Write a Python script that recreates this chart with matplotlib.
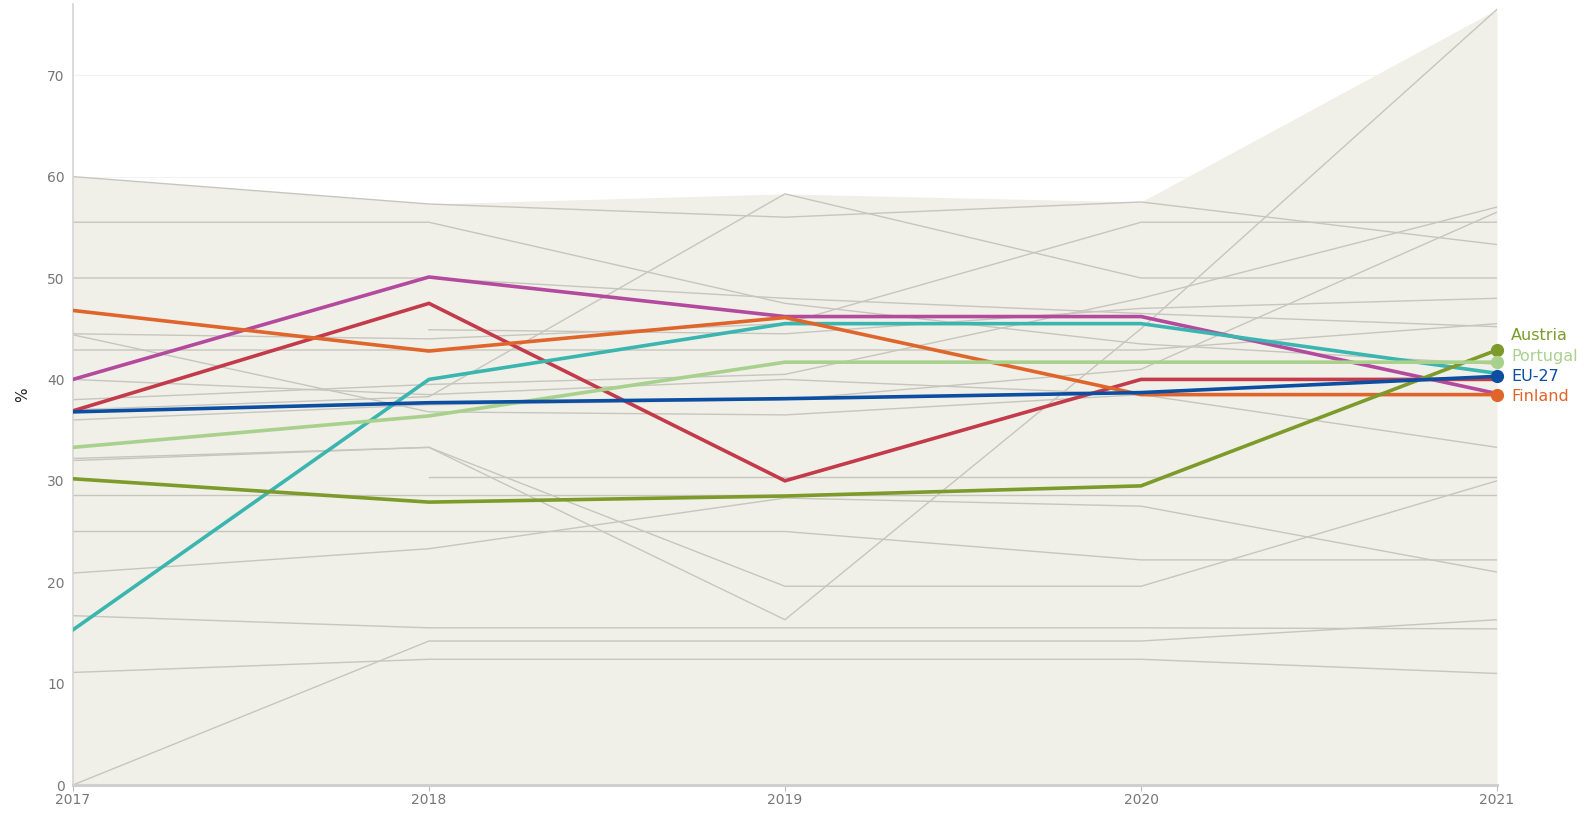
import numpy as np
import matplotlib
matplotlib.use("Agg")
import matplotlib.pyplot as plt

years = [2017, 2018, 2019, 2020, 2021]

# Highlighted series
eu27 = [36.8, 37.7, 38.1, 38.7, 40.3]
austria = [30.2, 27.9, 28.5, 29.5, 42.9]
portugal = [33.3, 36.4, 41.7, 41.7, 41.7]
finland = [46.8, 42.8, 46.1, 38.5, 38.5]
magenta = [40.0, 50.1, 46.2, 46.2, 38.6]
crimson = [36.9, 47.5, 30.0, 40.0, 40.0]
teal = [15.3, 40.0, 45.5, 45.5, 40.6]

# Other countries (grey)
others = [
    [60.0, 57.3, 56.0, 57.5, 53.3],
    [55.5, 55.5, 47.5, 43.5, 41.5],
    [0.0, 14.2, 14.2, 14.2, 16.3],
    [16.7, 15.5, 15.5, 15.5, 15.4],
    [11.1, 12.4, 12.4, 12.4, 11.0],
    [20.9, 23.3, 28.3, 27.5, 21.0],
    [25.0, 25.0, 25.0, 22.2, 22.2],
    [28.6, 28.6, 28.6, 28.6, 28.6],
    [np.nan, 30.4, 30.4, 30.4, 30.4],
    [32.2, 33.3, 19.6, 19.6, 30.0],
    [32.0, 33.3, 16.3, 45.0, 76.5],
    [44.4, 36.8, 36.5, 38.5, 33.3],
    [40.0, 38.5, 40.0, 38.5, 38.5],
    [42.9, 42.9, 42.9, 42.9, 45.5],
    [np.nan, 44.9, 44.5, 47.0, 48.0],
    [50.0, 50.0, 48.0, 46.5, 45.2],
    [37.0, 38.3, 58.3, 50.0, 50.0],
    [44.5, 44.0, 45.5, 55.5, 55.5],
    [38.0, 39.5, 40.5, 48.0, 57.0],
    [36.0, 37.5, 38.0, 41.0, 56.5],
]

highlight = [
    ("Magenta", magenta, "#b44a9e", None),
    ("Crimson", crimson, "#c33b4b", None),
    ("Teal", teal, "#3bb5b0", None),
    ("Finland", finland, "#e0652b", "Finland"),
    ("Austria", austria, "#7d9b2b", "Austria"),
    ("Portugal", portugal, "#a9d18e", "Portugal"),
    ("EU-27", eu27, "#0b4ea2", "EU-27"),
]

fig = plt.figure(figsize=(15.85, 8.15), dpi=100)
ax = fig.add_axes([0.046, 0.0368, 0.8985, 0.958])

all_vals = np.array(others + [h[1] for h in highlight], dtype=float)
band_top = np.nanmax(all_vals, axis=0)
ax.fill_between(years, 0, band_top, color="#f0f0e8", linewidth=0, zorder=1)

for y in [10, 20, 30, 40, 50, 60, 70]:
    ax.axhline(y, color="#f3f3f0", linewidth=0.8, zorder=0.5)

for row in others:
    ax.plot(years, row, color="#c6c6c0", linewidth=1.0, zorder=2)

for name, vals, col, lab in highlight:
    ax.plot(years, vals, color=col, linewidth=2.6, zorder=4, solid_joinstyle="round")
    if lab is not None:
        ax.plot(years[-1], vals[-1], "o", color=col, markersize=8.5, zorder=5, clip_on=False)

# end labels, nudged apart a little so they stay readable
label_y = {"Austria": 44.3, "Portugal": 42.3, "EU-27": 40.3, "Finland": 38.3}
label_col = {"Austria": "#7d9b2b", "Portugal": "#a9d18e", "EU-27": "#0b4ea2", "Finland": "#e0652b"}
for lab, yv in label_y.items():
    ax.text(2021.04, yv, lab, color=label_col[lab], fontsize=11.5, va="center", ha="left",
            clip_on=False, zorder=6)

ax.set_xlim(2017, 2021)
ax.set_ylim(0, 77)
ax.set_xticks(years)
ax.set_xticklabels([str(y) for y in years])
ax.set_yticks([0, 10, 20, 30, 40, 50, 60, 70])
ax.tick_params(axis="both", colors="#bbbbbb", labelcolor="#777777", labelsize=10, length=4, width=0.8)
ax.tick_params(axis="y", length=0, pad=6)
ax.tick_params(axis="x", pad=2)
ax.set_ylabel("%", fontsize=11, color="#222222", labelpad=12)

for side in ["top", "right"]:
    ax.spines[side].set_visible(False)
ax.spines["left"].set_color("#d4d4d4")
ax.spines["left"].set_linewidth(1.2)
ax.spines["bottom"].set_color("#cfcfcf")
ax.spines["bottom"].set_linewidth(2.2)
ax.set_facecolor("white")

fig.savefig("out.png", dpi=100)
